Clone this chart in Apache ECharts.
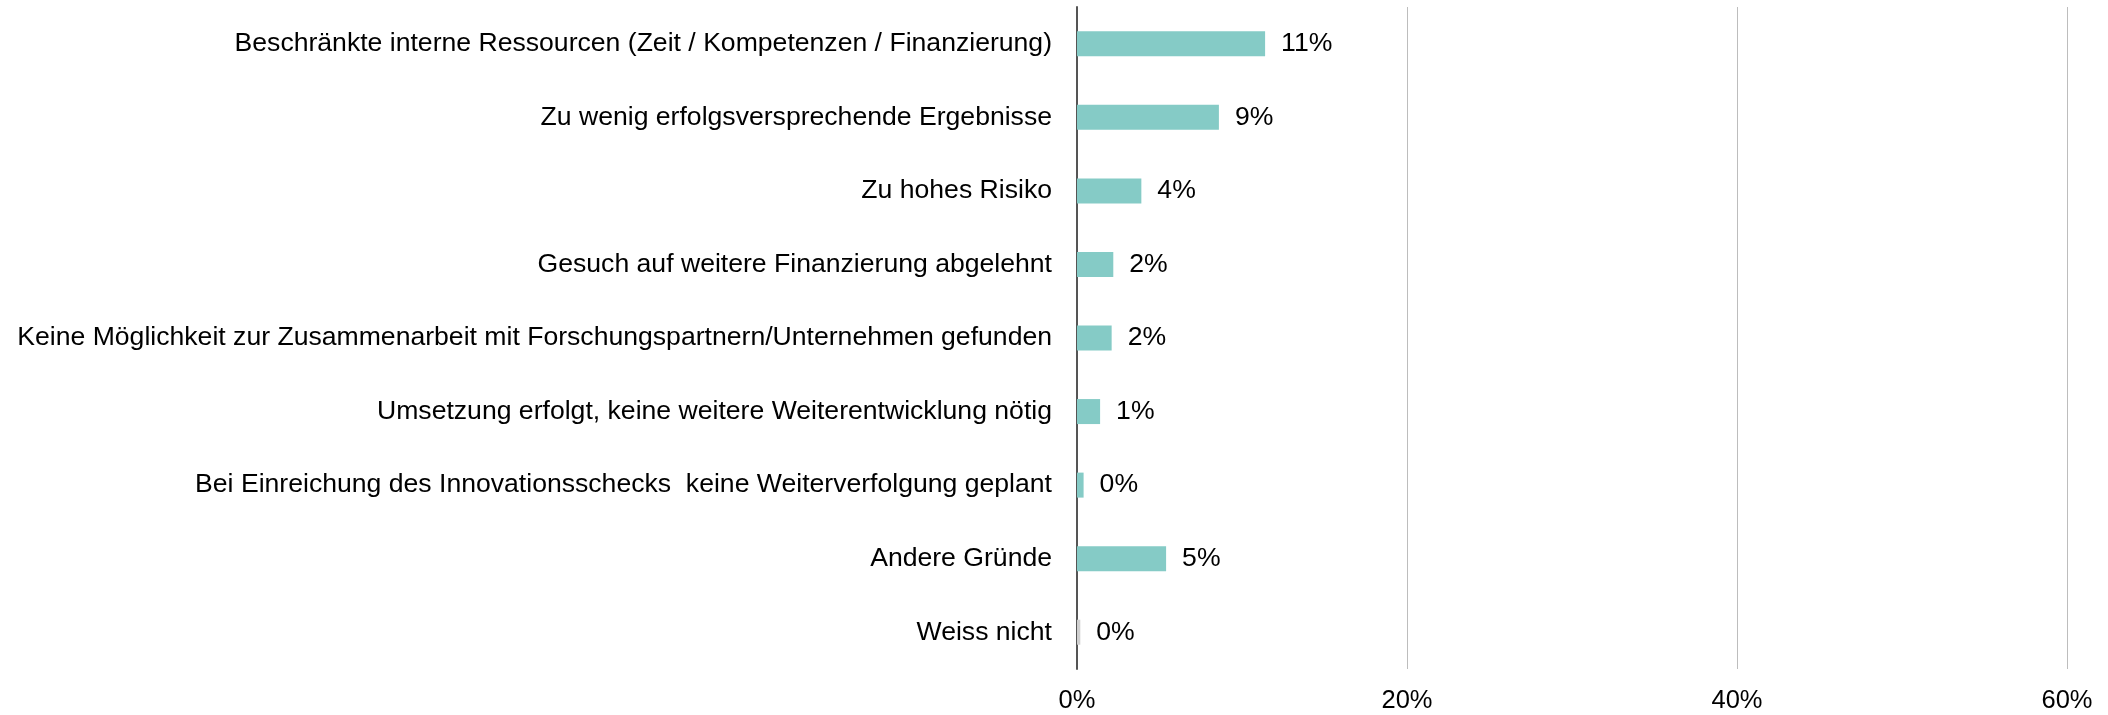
<!DOCTYPE html>
<html>
<head>
<meta charset="utf-8">
<script src="https://cdn.jsdelivr.net/npm/echarts@6/dist/echarts.min.js"></script>
<style>
html,body{margin:0;padding:0;background:#fff;}
#chart{width:2108px;height:715px;}
</style>
</head>
<body>
<div id="chart"></div>
<script>
const categories = [
  "Beschränkte interne Ressourcen (Zeit / Kompetenzen / Finanzierung)",
  "Zu wenig erfolgsversprechende Ergebnisse",
  "Zu hohes Risiko",
  "Gesuch auf weitere Finanzierung abgelehnt",
  "Keine Möglichkeit zur Zusammenarbeit mit Forschungspartnern/Unternehmen gefunden",
  "Umsetzung erfolgt, keine weitere Weiterentwicklung nötig",
  "Bei Einreichung des Innovationsschecks  keine Weiterverfolgung geplant",
  "Andere Gründe",
  "Weiss nicht"
];
const values = [11.4, 8.6, 3.9, 2.2, 2.1, 1.4, 0.4, 5.4, 0.2];
const barColors = ["#85cbc6","#85cbc6","#85cbc6","#85cbc6","#85cbc6","#85cbc6","#85cbc6","#85cbc6","#cfcfcf"];
const xTicks = [0, 20, 40, 60];

const font = "'Liberation Sans', Arial, sans-serif";
const chart = echarts.init(document.getElementById('chart'));
chart.setOption({
  animation: false,
  grid: {left: 1077, right: 41, top: 7, bottom: 46, containLabel: false},
  xAxis: {
    type: 'value',
    min: xTicks[0], max: xTicks[xTicks.length-1], interval: 20,
    axisLine: {show: false},
    axisTick: {show: false},
    splitLine: {show: true, lineStyle: {color: '#bdbdbd', width: 1}},
    axisLabel: {formatter: '{value}%', color: '#000', fontFamily: font, fontSize: 25.5, margin: 19}
  },
  yAxis: {
    type: 'category',
    data: categories,
    inverse: true,
    axisLine: {show: true, lineStyle: {color: '#555555', width: 2}},
    axisTick: {show: false},
    axisLabel: {color: '#000', fontFamily: font, fontSize: 26.6, margin: 25}
  },
  series: [{
    type: 'bar',
    barWidth: 25,
    data: values.map((v, i) => ({value: v, itemStyle: {color: barColors[i]}})),
    label: {
      show: true, position: 'right', distance: 16,
      color: '#000', fontFamily: font, fontSize: 26.6,
      formatter: p => Math.round(p.value) + '%'
    }
  }]
});
</script>
</body>
</html>
